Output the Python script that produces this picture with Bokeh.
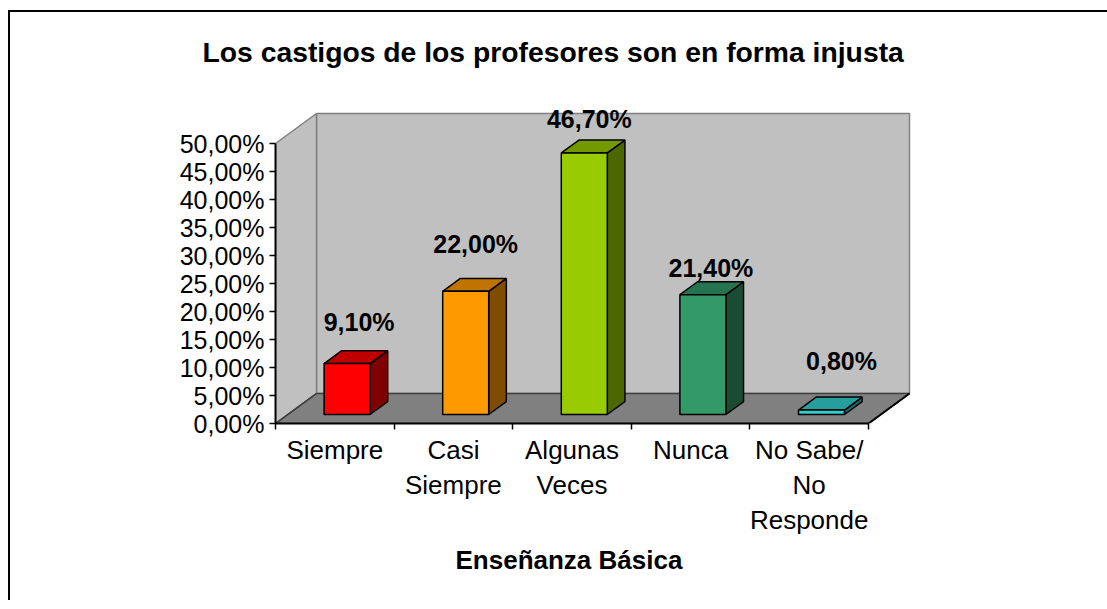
from bokeh.plotting import figure
from bokeh.models import Range1d, FixedTicker, LabelSet, ColumnDataSource, Title
from bokeh.core.properties import value
from bokeh.embed import file_html
from bokeh.resources import INLINE

# ---------------- data ----------------
categories = ["Siempre", "Casi\nSiempre", "Algunas\nVeces", "Nunca", "No Sabe/\nNo\nResponde"]
values = [9.1, 22.0, 46.7, 21.4, 0.8]
value_labels = ["9,10%", "22,00%", "46,70%", "21,40%", "0,80%"]
y_ticks = [0, 5, 10, 15, 20, 25, 30, 35, 40, 45, 50]
y_tick_labels = ["0,00%", "5,00%", "10,00%", "15,00%", "20,00%", "25,00%",
                 "30,00%", "35,00%", "40,00%", "45,00%", "50,00%"]
chart_title = "Los castigos de los profesores son en forma injusta"
x_title = "Enseñanza Básica"

# ---------------- styles ----------------
front_colors = ["#FF0000", "#FF9900", "#99CC00", "#339966", "#33CCCC"]
top_colors = ["#C00000", "#C07300", "#739900", "#267350", "#279E9E"]
side_colors = ["#800000", "#804C00", "#4C6600", "#1A4C33", "#1A6B6B"]
label_dx_px = [12, 10, 5, 8, 20]
label_dy_px = [33, 38, 25, 18, 40]

FONT = "Liberation Sans"
PXC = 118.6          # pixels per category
PXY = 5.6            # pixels per percent
ORIGIN_X, ORIGIN_Y = 275, 423   # page px of data origin
CANVAS_X0, CANVAS_Y0 = 0, 0     # page px of canvas origin
DX = 41 / PXC        # depth offset in data units
DY = 30 / PXY
F0, F1 = 0.30, 0.73  # bar depth fractions
HW = 23 / PXC        # bar half width

n = len(values)
ncat = len(categories)
y_max = max(y_ticks)

W, H = 1112, 600
frame_top, frame_right = 90, 920
fw = frame_right - ORIGIN_X
fh = ORIGIN_Y - frame_top
mbl = ORIGIN_X - CANVAS_X0
mbt = frame_top - CANVAS_Y0

p = figure(frame_width=fw, frame_height=fh,
           min_border_left=mbl, min_border_top=mbt,
           min_border_right=W - mbl - fw, min_border_bottom=H - mbt - fh,
           x_range=Range1d(0, fw / PXC), y_range=Range1d(0, fh / PXY),
           output_backend="svg", toolbar_location=None)
# chart-area border (left and top edges visible, as in the cropped reference)
p.styles = {"background": ("linear-gradient(#000, #000) 8px 10px / 2px 100% no-repeat, "
                           "linear-gradient(#000, #000) 8px 10px / 100% 2px no-repeat, "
                           "#ffffff")}
p.grid.visible = False
p.outline_line_color = None
p.background_fill_color = "white"
p.border_fill_color = None

# ---------------- title ----------------
p.title.text = chart_title
p.title.text_font = FONT
p.title.text_font_style = "bold"
p.title.text_font_size = "28.3px"
p.title.text_color = "black"
p.title.align = "left"
p.title.offset = 202 - ORIGIN_X
p.title.vertical_align = "bottom"
p.title.standoff = 46

# ---------------- walls ----------------
back_x = [DX, ncat + DX, ncat + DX, DX]
back_y = [DY, DY, y_max + DY, y_max + DY]
side_x = [0, DX, DX, 0]
side_y = [0, DY, y_max + DY, y_max]
floor_x = [0, ncat, ncat + DX, DX]
floor_y = [0, 0, DY, DY]
p.patch(back_x, back_y, fill_color="#C0C0C0", line_color="#808080", line_width=1.5)
p.patch(side_x, side_y, fill_color="#C0C0C0", line_color="#808080", line_width=1.5)
p.patch(floor_x, floor_y, fill_color="#808080", line_color="#404040", line_width=1.5)
p.line([ncat, ncat + DX], [0, DY], line_color="black", line_width=2)
p.line([0, DX], [0, DY], line_color="#404040", line_width=1.5)

# ---------------- bars ----------------
cx = [i + 0.5 + F0 * DX for i in range(n)]
base = F0 * DY
tops = [base + v for v in values]
bdx = (F1 - F0) * DX
bdy = (F1 - F0) * DY

top_xs, top_ys, side_xs, side_ys = [], [], [], []
for c, t in zip(cx, tops):
    top_xs.append([c - HW, c + HW, c + HW + bdx, c - HW + bdx])
    top_ys.append([t, t, t + bdy, t + bdy])
    side_xs.append([c + HW, c + HW + bdx, c + HW + bdx, c + HW])
    side_ys.append([base, base + bdy, t + bdy, t])

p.patches(side_xs, side_ys, fill_color=side_colors, line_color="black", line_width=1.5)
p.patches(top_xs, top_ys, fill_color=top_colors, line_color="black", line_width=1.5)
p.quad(left=[c - HW for c in cx], right=[c + HW for c in cx],
       bottom=[base] * n, top=tops, fill_color=front_colors,
       line_color="black", line_width=1.5)

# ---------------- value labels ----------------
src = ColumnDataSource(dict(x=cx, y=tops, text=value_labels,
                            xo=label_dx_px, yo=label_dy_px))
p.add_layout(LabelSet(x="x", y="y", text="text", source=src,
                      x_offset="xo", y_offset="yo",
                      text_font=value(FONT), text_font_style="bold",
                      text_font_size="25px",
                      text_align="center", text_baseline="alphabetic",
                      text_color="black"))

# ---------------- axes ----------------
ya = p.yaxis[0]
ya.ticker = FixedTicker(ticks=y_ticks)
ya.major_label_overrides = {t: l for t, l in zip(y_ticks, y_tick_labels)}
ya.bounds = (0, y_max)
ya.axis_line_color = "black"
ya.axis_line_width = 2
ya.major_tick_in = 0
ya.major_tick_out = 6
ya.major_tick_line_color = "black"
ya.major_tick_line_width = 1.5
ya.minor_tick_line_color = None
ya.major_label_standoff = 5
ya.major_label_text_font = FONT
ya.major_label_text_font_size = "25px"
ya.major_label_text_color = "black"

xa = p.xaxis[0]
centers = [i + 0.5 for i in range(ncat)]
xa.ticker = FixedTicker(ticks=centers, minor_ticks=list(range(ncat + 1)))
xa.major_label_overrides = {c: l for c, l in zip(centers, categories)}
xa.bounds = (0, ncat)
xa.axis_line_color = "black"
xa.axis_line_width = 2
xa.major_tick_in = 0
xa.major_tick_out = 0
xa.minor_tick_in = 0
xa.minor_tick_out = 6
xa.minor_tick_line_color = "black"
xa.minor_tick_line_width = 1.5
xa.major_label_standoff = 5
xa.major_label_text_font = FONT
xa.major_label_text_font_size = "26px"
xa.major_label_text_line_height = 1.17
xa.major_label_text_color = "black"

# x-axis title (placed below the category labels)
p.add_layout(Title(text=x_title, text_font=FONT, text_font_style="bold",
                   text_font_size="26px", text_color="black",
                   align="left", offset=455 - ORIGIN_X,
                   vertical_align="top", standoff=14), "below")

open("out.html", "w").write(file_html(p, INLINE))
